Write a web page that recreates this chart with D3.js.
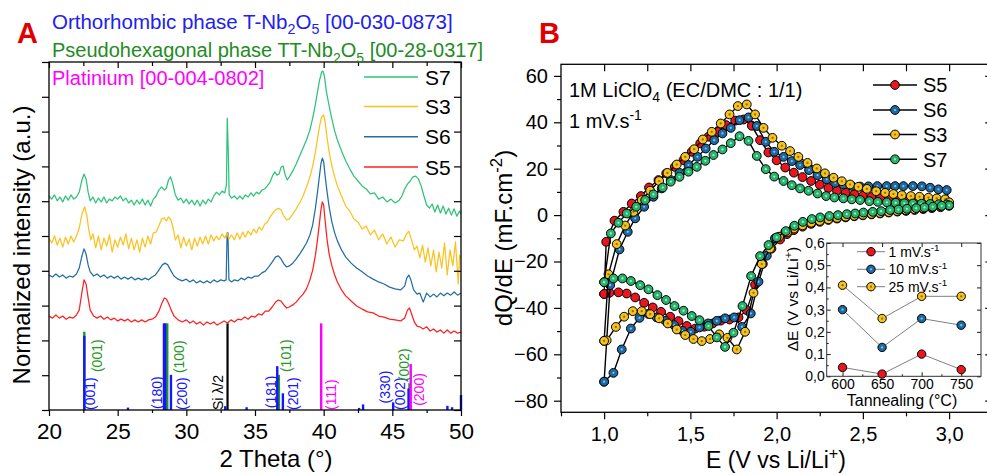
<!DOCTYPE html>
<html><head><meta charset="utf-8">
<script src="https://cdn.jsdelivr.net/npm/d3@7"></script>
<style>body{margin:0;background:#fff}svg{display:block;font-family:"Liberation Sans",Arial,sans-serif}</style>
</head><body><svg id="c" width="987" height="475"></svg>
<script>
// ---------- Panel A data (XRD, normalized + offset, a.u.) ----------
const xrdTicks = [20,25,30,35,40,45,50];
const xrdS5 = [[20,2.70],[20.25,2.64],[20.5,2.73],[20.75,2.64],[21,2.70],[21.25,2.61],[21.5,2.67],[21.75,2.64],[22,2.73],[22.2,2.87],[22.4,3.39],[22.55,3.74],[22.7,3.62],[22.85,3.22],[23,2.87],[23.25,2.70],[23.5,2.64],[23.75,2.70],[24,2.61],[24.25,2.67],[24.5,2.59],[24.75,2.64],[25,2.56],[25.25,2.61],[25.5,2.56],[25.75,2.61],[26,2.53],[26.25,2.59],[26.5,2.53],[26.75,2.59],[27,2.53],[27.25,2.59],[27.5,2.61],[27.75,2.67],[28,2.84],[28.2,3.05],[28.4,3.22],[28.55,3.19],[28.7,3.07],[28.9,2.87],[29.1,2.70],[29.4,2.59],[29.7,2.53],[30,2.59],[30.25,2.50],[30.5,2.56],[30.75,2.47],[31,2.53],[31.25,2.44],[31.5,2.53],[31.75,2.47],[32,2.53],[32.25,2.44],[32.5,2.50],[32.75,2.56],[33,2.50],[33.25,2.59],[33.5,2.53],[33.75,2.61],[34,2.59],[34.25,2.67],[34.5,2.61],[34.75,2.70],[35,2.67],[35.25,2.76],[35.5,2.73],[35.75,2.84],[36,2.84],[36.25,2.96],[36.5,3.10],[36.7,3.16],[36.9,3.13],[37.1,3.02],[37.3,2.93],[37.5,2.96],[37.75,3.02],[38,3.10],[38.25,3.22],[38.5,3.33],[38.75,3.48],[39,3.74],[39.2,4.02],[39.4,4.45],[39.55,4.89],[39.7,5.40],[39.8,5.75],[39.9,5.98],[40,5.89],[40.1,5.46],[40.25,4.89],[40.4,4.48],[40.6,4.14],[40.8,3.88],[41,3.68],[41.3,3.45],[41.6,3.28],[42,3.13],[42.4,2.99],[42.8,2.90],[43.2,2.82],[43.6,2.79],[44,2.70],[44.4,2.67],[44.8,2.61],[45.2,2.59],[45.6,2.56],[45.9,2.64],[46.1,2.87],[46.25,2.93],[46.4,2.76],[46.6,2.53],[46.8,2.41],[47,2.39],[47.25,2.33],[47.5,2.39],[47.75,2.27],[48,2.33],[48.25,2.24],[48.5,2.30],[48.75,2.21],[49,2.30],[49.25,2.21],[49.5,2.27],[49.75,2.21],[50,2.24]];
const xrdS6 = [[20,3.88],[20.25,3.82],[20.5,3.91],[20.75,3.82],[21,3.88],[21.25,3.79],[21.5,3.85],[21.75,3.82],[22,3.91],[22.2,4.08],[22.4,4.43],[22.55,4.63],[22.7,4.48],[22.85,4.17],[23,3.97],[23.25,3.85],[23.5,3.91],[23.75,3.82],[24,3.88],[24.25,3.79],[24.5,3.85],[24.75,3.79],[25,3.85],[25.25,3.76],[25.5,3.82],[25.75,3.76],[26,3.82],[26.25,3.74],[26.5,3.79],[26.75,3.74],[27,3.79],[27.25,3.74],[27.5,3.82],[27.75,3.88],[28,4.02],[28.25,4.17],[28.45,4.22],[28.65,4.17],[28.85,4.02],[29.1,3.85],[29.4,3.76],[29.7,3.71],[30,3.76],[30.25,3.68],[30.5,3.74],[30.75,3.65],[31,3.71],[31.25,3.65],[31.5,3.71],[31.75,3.65],[32,3.74],[32.25,3.68],[32.5,3.74],[32.75,3.71],[32.9,3.74],[32.97,5.09],[33.03,5.09],[33.1,3.74],[33.3,3.68],[33.5,3.74],[33.75,3.71],[34,3.79],[34.25,3.74],[34.5,3.82],[34.75,3.79],[35,3.85],[35.25,3.85],[35.5,3.94],[35.75,3.99],[36,4.11],[36.25,4.25],[36.5,4.40],[36.7,4.43],[36.9,4.34],[37.1,4.20],[37.3,4.11],[37.5,4.14],[37.75,4.22],[38,4.34],[38.25,4.48],[38.5,4.63],[38.75,4.80],[39,5.03],[39.2,5.32],[39.4,5.80],[39.55,6.26],[39.7,6.75],[39.8,7.07],[39.9,7.24],[40,7.13],[40.1,6.75],[40.25,6.26],[40.4,5.83],[40.6,5.40],[40.8,5.09],[41,4.86],[41.3,4.60],[41.6,4.40],[42,4.22],[42.4,4.08],[42.8,3.97],[43.2,3.85],[43.6,3.76],[44,3.68],[44.4,3.62],[44.8,3.53],[45.2,3.48],[45.6,3.45],[45.9,3.56],[46.05,3.79],[46.2,3.88],[46.35,3.74],[46.55,3.45],[46.8,3.33],[47,3.36],[47.25,3.10],[47.5,3.36],[47.75,3.25],[48,3.33],[48.25,3.25],[48.5,3.36],[48.75,3.28],[49,3.36],[49.25,3.30],[49.5,3.39],[49.75,3.30],[50,3.36]];
const xrdS3 = [[20,4.94],[20.2,4.80],[20.4,5.00],[20.6,4.74],[20.8,4.94],[21,4.68],[21.2,4.97],[21.4,4.77],[21.6,5.00],[21.8,4.83],[22,5.00],[22.2,5.23],[22.4,5.63],[22.6,5.84],[22.75,5.60],[22.9,5.17],[23.05,4.89],[23.2,5.06],[23.4,4.66],[23.6,5.00],[23.8,4.60],[24,4.94],[24.2,4.71],[24.4,5.03],[24.6,4.54],[24.8,4.89],[25,4.68],[25.2,4.97],[25.4,4.74],[25.6,5.06],[25.8,4.63],[26,4.94],[26.2,4.60],[26.4,4.89],[26.6,4.54],[26.8,4.94],[27,4.68],[27.2,5.00],[27.4,4.77],[27.6,5.09],[27.8,5.11],[28,5.29],[28.2,5.49],[28.4,5.52],[28.55,5.43],[28.7,5.55],[28.85,5.49],[29,5.29],[29.2,4.89],[29.4,5.03],[29.6,4.66],[29.8,4.97],[30,4.71],[30.2,4.91],[30.4,4.60],[30.6,4.94],[30.8,4.71],[31,4.97],[31.2,4.77],[31.4,5.00],[31.6,4.77],[31.8,5.03],[32,4.86],[32.2,5.00],[32.4,4.89],[32.6,5.06],[32.8,4.94],[32.97,5.09],[33.1,4.91],[33.3,5.03],[33.5,4.89],[33.7,5.09],[33.9,4.91],[34.1,5.11],[34.3,4.97],[34.5,5.14],[34.7,5.03],[34.9,5.20],[35.1,5.09],[35.3,5.26],[35.5,5.17],[35.7,5.34],[35.9,5.40],[36.1,5.55],[36.3,5.66],[36.5,5.75],[36.7,5.80],[36.9,5.75],[37.1,5.57],[37.3,5.46],[37.5,5.49],[37.75,5.63],[38,5.78],[38.25,5.95],[38.5,6.15],[38.75,6.41],[39,6.70],[39.2,7.01],[39.4,7.41],[39.55,7.79],[39.7,8.16],[39.85,8.42],[40,8.48],[40.1,8.28],[40.25,7.82],[40.4,7.41],[40.6,7.01],[40.8,6.70],[41,6.44],[41.3,6.15],[41.6,5.86],[41.9,5.72],[42.2,5.49],[42.5,5.40],[42.8,5.20],[43.1,5.29],[43.4,5.03],[43.7,5.17],[44,4.89],[44.3,5.06],[44.6,4.77],[44.9,4.97],[45.2,4.68],[45.5,4.89],[45.8,4.86],[46,5.03],[46.2,5.14],[46.4,4.89],[46.6,4.60],[46.8,4.71],[47,4.37],[47.2,4.74],[47.4,4.25],[47.6,4.66],[47.8,4.14],[48,4.60],[48.2,3.97],[48.4,4.54],[48.6,4.08],[48.8,4.80],[49,3.88],[49.2,4.60],[49.4,4.14],[49.6,4.83],[49.8,3.62],[49.9,4.45],[50,4.37]];
const xrdS7 = [[20,6.15],[20.2,6.06],[20.4,6.18],[20.6,6.01],[20.8,6.12],[21,5.98],[21.2,6.15],[21.4,6.03],[21.6,6.18],[21.8,6.06],[22,6.12],[22.2,6.26],[22.4,6.61],[22.55,6.78],[22.7,6.64],[22.85,6.26],[23,6.01],[23.2,6.12],[23.4,5.95],[23.6,6.09],[23.8,5.98],[24,6.12],[24.2,5.95],[24.4,6.06],[24.6,6.01],[24.8,6.12],[25,6.06],[25.2,6.15],[25.4,6.01],[25.6,6.09],[25.8,5.95],[26,6.03],[26.2,5.89],[26.4,6.03],[26.6,5.92],[26.8,6.06],[27,5.89],[27.2,6.03],[27.4,5.86],[27.6,6.06],[27.8,6.15],[28,6.32],[28.2,6.41],[28.4,6.32],[28.55,6.38],[28.7,6.61],[28.85,6.70],[29,6.52],[29.2,6.18],[29.4,6.03],[29.6,6.09],[29.8,5.95],[30,6.06],[30.2,5.92],[30.4,6.03],[30.6,5.89],[30.8,6.03],[31,5.86],[31.2,6.03],[31.4,5.92],[31.6,6.06],[31.8,5.98],[32,6.15],[32.2,6.26],[32.4,6.18],[32.6,6.29],[32.8,6.24],[32.92,6.47],[32.98,8.39],[33.05,7.47],[33.12,6.18],[33.3,6.09],[33.5,6.15],[33.7,6.06],[33.9,6.15],[34.1,6.06],[34.3,6.18],[34.5,6.12],[34.7,6.24],[34.9,6.15],[35.1,6.26],[35.3,6.21],[35.5,6.32],[35.7,6.35],[35.9,6.44],[36.1,6.55],[36.3,6.75],[36.45,6.84],[36.6,6.75],[36.75,6.78],[36.9,6.98],[37.05,7.01],[37.2,6.75],[37.35,6.61],[37.5,6.70],[37.75,6.87],[38,7.07],[38.25,7.30],[38.5,7.53],[38.75,7.76],[39,8.05],[39.2,8.39],[39.4,8.79],[39.55,9.14],[39.7,9.48],[39.85,9.71],[39.95,9.74],[40.05,9.60],[40.2,9.14],[40.4,8.74],[40.6,8.36],[40.8,8.02],[41,7.76],[41.3,7.44],[41.6,7.16],[41.9,6.93],[42.2,6.72],[42.5,6.58],[42.8,6.44],[43.1,6.35],[43.4,6.21],[43.7,6.24],[44,6.06],[44.3,6.12],[44.6,5.98],[44.9,6.06],[45.2,5.95],[45.5,6.03],[45.7,6.15],[45.9,6.35],[46.1,6.49],[46.3,6.58],[46.5,6.70],[46.7,6.72],[46.9,6.64],[47.1,6.44],[47.3,6.15],[47.5,5.89],[47.7,5.80],[47.9,5.92],[48.1,5.69],[48.3,5.89],[48.5,5.66],[48.7,5.86],[48.9,5.63],[49.1,5.80],[49.3,5.60],[49.5,5.78],[49.7,5.57],[49.9,5.72],[50,5.63]];
// reference patterns: [2theta, relative height]
const refOrtho = [[22.57,2.13],[25.75,0.07],[28.37,2.49],[28.46,2.49],[28.88,1.01],[32.83,0.11],[34.39,0.08],[36.62,1.26],[37.03,0.48],[42.58,0.06],[42.87,0.16],[45.06,0.22],[46.18,0.62],[49.01,0.12],[49.35,0.08],[50.0,0.43]];
const refPseudo = [[22.57,2.25],[28.61,2.49],[36.74,1.01],[46.25,0.77]];
const refPt = [[39.82,2.49],[46.34,1.32]];
const refSi = [[33.0,2.49]];
// hkl labels: [text, 2theta, start height, colour key]
const hklLabels = [["(001)",23.02,0,"o"],["(001)",23.46,1.09,"p"],["(180)",27.83,0.03,"o"],["(200)",29.65,0,"o"],["(100)",29.43,1.06,"p"],["Si λ/2",32.34,0,"s"],["(181)",36.20,0.05,"o"],["(201)",37.80,0,"o"],["(101)",37.29,1.09,"p"],["(111)",40.57,0,"m"],["(330)",44.47,0.19,"o"],["(002)",45.56,0,"o"],["(002)",45.85,0.83,"p"],["(200)",46.91,0.12,"m"]];

// ---------- Panel B data (dQ/dE vs E) ----------
const cvTicksX = [1.0,1.5,2.0,2.5,3.0];
const cvTicksY = [-80,-60,-40,-20,0,20,40,60];
const cvS5Anodic = [[1.0,-34.0],[1.012,-11.5],[1.06,-2.4],[1.112,1.4],[1.16,5.0],[1.213,8.2],[1.26,11.9],[1.315,15.1],[1.36,18.0],[1.41,20.8],[1.46,23.7],[1.508,27.3],[1.557,30.9],[1.605,33.8],[1.657,35.9],[1.707,38.8],[1.76,40.7],[1.808,41.2],[1.856,38.5],[1.904,32.3],[1.952,27.0],[2.0,23.6],[2.05,20.5],[2.1,18.3],[2.15,16.4],[2.2,14.7],[2.25,13.1],[2.3,11.7],[2.35,10.5],[2.4,9.6],[2.45,8.9],[2.5,8.3],[2.55,7.8],[2.6,7.2],[2.65,6.7],[2.7,6.3],[2.75,5.9],[2.8,5.6],[2.85,5.3],[2.9,5.0],[2.95,4.7],[2.99,4.6]];
const cvS5Cathodic = [[3.0,4.0],[2.95,3.4],[2.9,3.0],[2.85,2.6],[2.8,2.2],[2.75,1.8],[2.7,1.5],[2.65,1.1],[2.6,0.7],[2.55,0.3],[2.5,-0.1],[2.45,-0.5],[2.4,-1.0],[2.35,-1.5],[2.3,-2.1],[2.25,-2.9],[2.2,-3.8],[2.15,-5.0],[2.1,-6.5],[2.06,-8.2],[2.02,-10.5],[1.97,-14.5],[1.92,-21.0],[1.875,-30.0],[1.827,-41.0],[1.779,-44.1],[1.727,-45.0],[1.676,-45.5],[1.63,-46.7],[1.58,-48.1],[1.528,-48.9],[1.479,-47.8],[1.431,-45.7],[1.383,-43.8],[1.33,-41.7],[1.282,-39.8],[1.232,-37.8],[1.18,-35.5],[1.131,-33.8],[1.083,-33.3],[1.031,-33.5],[1.0,-34.0]];
const cvS6Anodic = [[1.0,-71.8],[1.035,-30.2],[1.089,-14.8],[1.137,-7.2],[1.18,-1.4],[1.232,3.6],[1.286,7.9],[1.334,11.5],[1.386,15.1],[1.437,18.2],[1.489,21.6],[1.541,25.1],[1.589,28.7],[1.638,32.3],[1.686,35.2],[1.734,37.6],[1.785,40.9],[1.837,42.1],[1.885,38.4],[1.937,31.6],[1.986,27.3],[2.04,25.1],[2.088,23.3],[2.136,21.6],[2.188,19.4],[2.237,17.2],[2.29,15.4],[2.339,13.9],[2.387,13.2],[2.436,12.6],[2.484,12.3],[2.532,12.4],[2.584,12.5],[2.638,12.5],[2.687,12.5],[2.735,12.5],[2.79,12.5],[2.842,12.4],[2.89,11.8],[2.938,11.1],[2.986,10.8]];
const cvS6Cathodic = [[3.0,5.0],[2.95,4.2],[2.9,3.6],[2.85,3.1],[2.8,2.7],[2.75,2.3],[2.7,1.9],[2.65,1.5],[2.6,1.1],[2.55,0.7],[2.5,0.3],[2.45,-0.1],[2.4,-0.5],[2.35,-1.0],[2.3,-1.5],[2.25,-2.2],[2.2,-3.1],[2.15,-4.1],[2.1,-5.5],[2.05,-7.3],[1.99,-10.0],[1.943,-17.5],[1.895,-28.7],[1.85,-42.4],[1.8,-48.2],[1.754,-44.1],[1.701,-44.5],[1.653,-45.6],[1.603,-46.7],[1.553,-48.4],[1.502,-50.3],[1.454,-49.9],[1.406,-47.4],[1.356,-45.6],[1.305,-44.1],[1.257,-42.6],[1.205,-44.3],[1.155,-48.9],[1.102,-57.9],[1.054,-68.0],[1.0,-71.8]];
const cvS3Anodic = [[1.0,-54.2],[1.025,-25.5],[1.073,-12.5],[1.122,-4.5],[1.17,1.4],[1.218,6.5],[1.267,10.5],[1.319,14.7],[1.367,18.2],[1.421,21.8],[1.47,25.1],[1.522,28.4],[1.572,32.6],[1.624,35.9],[1.676,39.5],[1.727,43.4],[1.775,47.0],[1.827,47.7],[1.875,43.4],[1.924,37.6],[1.976,33.3],[2.03,29.9],[2.078,27.6],[2.126,25.1],[2.179,22.5],[2.233,20.1],[2.28,18.0],[2.33,16.1],[2.378,14.6],[2.426,13.2],[2.474,12.2],[2.523,11.3],[2.577,10.3],[2.629,9.6],[2.677,9.1],[2.726,8.6],[2.778,8.2],[2.828,7.9],[2.88,7.5],[2.928,7.2],[2.977,6.8]];
const cvS3Cathodic = [[3.0,5.5],[2.95,4.0],[2.9,3.4],[2.85,3.0],[2.8,2.5],[2.75,2.1],[2.7,1.7],[2.65,1.3],[2.6,0.9],[2.55,0.5],[2.5,0.1],[2.45,-0.3],[2.4,-0.7],[2.35,-1.2],[2.3,-1.8],[2.25,-2.5],[2.2,-3.3],[2.15,-4.4],[2.1,-5.8],[2.062,-7.3],[2.014,-9.3],[1.962,-14.4],[1.914,-21.1],[1.866,-33.5],[1.817,-50.3],[1.769,-57.9],[1.715,-52.9],[1.667,-51.4],[1.614,-53.4],[1.566,-54.3],[1.518,-53.4],[1.47,-51.7],[1.421,-49.3],[1.369,-46.7],[1.319,-44.5],[1.267,-42.7],[1.218,-41.4],[1.166,-41.4],[1.116,-43.8],[1.068,-48.2],[1.015,-54.0],[1.0,-54.2]];
const cvS7Anodic = [[1.0,-28.9],[1.039,-7.9],[1.083,-3.3],[1.131,0.7],[1.186,3.6],[1.238,6.5],[1.286,8.9],[1.34,11.9],[1.386,14.4],[1.437,16.5],[1.489,18.7],[1.537,20.8],[1.587,23.4],[1.634,25.9],[1.686,28.3],[1.734,31.0],[1.785,34.0],[1.837,32.0],[1.885,25.5],[1.937,19.8],[1.986,16.6],[2.04,14.7],[2.088,12.9],[2.136,11.5],[2.185,10.5],[2.237,9.3],[2.287,8.2],[2.335,7.6],[2.387,7.2],[2.436,6.8],[2.484,6.5],[2.538,6.0],[2.586,5.7],[2.639,5.5],[2.69,5.3],[2.74,5.1],[2.79,5.0],[2.84,4.9],[2.89,4.8],[2.94,4.7],[2.986,4.6]];
const cvS7Cathodic = [[3.0,4.2],[2.957,4.0],[2.905,3.6],[2.857,3.3],[2.809,3.0],[2.755,2.7],[2.706,2.4],[2.658,2.2],[2.606,1.7],[2.557,1.4],[2.503,1.1],[2.455,0.7],[2.407,0.4],[2.355,0.0],[2.306,-0.4],[2.252,-1.0],[2.204,-1.7],[2.152,-2.9],[2.103,-4.6],[2.053,-6.9],[2.0,-9.6],[1.953,-12.9],[1.904,-17.7],[1.852,-26.3],[1.802,-39.2],[1.75,-50.7],[1.701,-56.8],[1.653,-52.7],[1.605,-47.8],[1.553,-45.3],[1.508,-43.5],[1.46,-41.2],[1.408,-39.2],[1.359,-36.6],[1.309,-34.5],[1.257,-32.0],[1.209,-30.2],[1.155,-28.4],[1.106,-27.3],[1.054,-27.3],[1.0,-28.9]];

// ---------- Inset data ----------
const annealTemps = [600,650,700,750];
const dE1mV = [0.04,0.01,0.10,0.03];
const dE10mV = [0.30,0.13,0.26,0.23];
const dE25mV = [0.41,0.26,0.36,0.36];

// ---------- helpers ----------
const FONT = '"Liberation Sans",Arial,sans-serif';
const svg = d3.select("#c");
svg.append("rect").attr("width",987).attr("height",475).attr("fill","#fff");

function styleAxis(g, fs){
  g.attr("font-family",FONT).attr("font-size",fs||12);
  g.select(".domain").remove();
  g.selectAll(".tick line").attr("stroke","#000").attr("stroke-width",1.2);
  g.selectAll(".tick text").attr("fill","#000");
  return g;
}
function rich(textSel, parts, fs){
  let cur = 0;
  parts.forEach(([t,k])=>{
    const target = k==="sup" ? -0.4*fs : (k==="sub" ? 0.28*fs : 0);
    const sp = textSel.append("tspan").text(t).attr("dy", (target-cur).toFixed(2));
    if(k!=="n") sp.attr("font-size", (fs*0.7).toFixed(1));
    cur = target;
  });
}
function txt(parent, x, y, fs, color, parts, anchor, rot){
  const t = parent.append("text").attr("font-family",FONT).attr("font-size",fs).attr("fill",color)
    .attr("text-anchor",anchor||"start");
  if(rot){ t.attr("transform",`translate(${x},${y}) rotate(${rot})`); }
  else { t.attr("x",x).attr("y",y); }
  rich(t, parts, fs);
  return t;
}

// =================== PANEL A ===================
const xA = d3.scaleLinear().domain([20,50]).range([49,461]);
const yA = d3.scaleLinear().domain([0,10]).range([410,62]);
const gA = svg.append("g");

const stickCol = {o:"#1515ff", p:"#1f9a1f", m:"#ff00ff", s:"#000"};
function sticks(data, col, w){
  gA.append("g").selectAll("line").data(data).join("line")
    .attr("x1",d=>xA(d[0])).attr("x2",d=>xA(d[0]))
    .attr("y1",yA(0)).attr("y2",d=>yA(d[1]))
    .attr("stroke",col).attr("stroke-width",w);
}
sticks(refPseudo, stickCol.p, 2.4);
sticks(refOrtho, stickCol.o, 2.4);
sticks(refSi, stickCol.s, 2.2);
sticks(refPt, stickCol.m, 2.4);

hklLabels.forEach(([t,th,h,k])=>{
  gA.append("text").attr("font-family",FONT).attr("font-size",14).attr("fill",stickCol[k])
    .attr("transform",`translate(${xA(th)+5},${yA(h)}) rotate(-90)`).text(t);
});

const lineA = d3.line().x(d=>xA(d[0])).y(d=>yA(d[1]));
const xrdSeries = [
  {name:"S5", data:xrdS5, col:"#ff2020"},
  {name:"S6", data:xrdS6, col:"#236fa5"},
  {name:"S3", data:xrdS3, col:"#fcc21f"},
  {name:"S7", data:xrdS7, col:"#2fc27a"}
];
xrdSeries.forEach(s=>{
  gA.append("path").datum(s.data).attr("d",lineA).attr("fill","none")
    .attr("stroke",s.col).attr("stroke-width",1.25).attr("stroke-linejoin","round");
});

styleAxis(gA.append("g").attr("transform","translate(0,410)")
  .call(d3.axisBottom(xA).tickValues(xrdTicks).tickSize(6).tickPadding(7).tickFormat(d3.format("d"))), 22.5);
styleAxis(gA.append("g").attr("transform","translate(0,410)")
  .call(d3.axisBottom(xA).tickValues(d3.range(22.5,50,5)).tickSize(3).tickFormat("")));
styleAxis(gA.append("g").attr("transform","translate(0,62)")
  .call(d3.axisTop(xA).tickValues(xrdTicks).tickSize(-6).tickFormat("")));
styleAxis(gA.append("g").attr("transform","translate(0,62)")
  .call(d3.axisTop(xA).tickValues(d3.range(22.5,50,5)).tickSize(-4).tickFormat("")));
styleAxis(gA.append("g").attr("transform","translate(49,0)")
  .call(d3.axisLeft(yA).tickValues(d3.range(0,11)).tickSize(7).tickFormat("")));
styleAxis(gA.append("g").attr("transform","translate(461,0)")
  .call(d3.axisRight(yA).tickValues(d3.range(0,11)).tickSize(-7).tickFormat("")));
gA.append("rect").attr("x",49).attr("y",62).attr("width",412).attr("height",348)
  .attr("fill","none").attr("stroke","#000").attr("stroke-width",1.3);

const legA = [["S7","#2fc27a",77],["S3","#fcc21f",106.5],["S6","#236fa5",136.8],["S5","#ff2020",167]];
legA.forEach(([n,c,y])=>{
  gA.append("line").attr("x1",364).attr("x2",418).attr("y1",y).attr("y2",y).attr("stroke",c).attr("stroke-width",1.5);
  gA.append("text").attr("x",425).attr("y",y+7.6).attr("font-family",FONT).attr("font-size",21).text(n);
});

txt(svg, 52, 28.5, 20.5, "#2020f0", [["Orthorhombic phase T-Nb","n"],["2","sub"],["O","n"],["5","sub"],[" [00-030-0873]","n"]]);
txt(svg, 52, 57, 20, "#1f8c1f", [["Pseudohexagonal phase TT-Nb","n"],["2","sub"],["O","n"],["5","sub"],[" [00-28-0317]","n"]]);
txt(svg, 52, 85, 20, "#ff00ff", [["Platinium [00-004-0802]","n"]]);
svg.append("text").attr("x",17).attr("y",43).attr("font-family",FONT).attr("font-size",29)
  .attr("font-weight","bold").attr("fill","#e00000").text("A");
txt(svg, 29.5, 245, 24, "#000", [["Normalized intensity (a.u.)","n"]], "middle", -90);
txt(svg, 276, 467, 24, "#000", [["2 Theta (°)","n"]], "middle");

// =================== PANEL B ===================
const xB = d3.scaleLinear().domain([0.75,3.25]).range([561,992.25]);
const yB = d3.scaleLinear().domain([-85,65]).range([412.3,64.3]);
const gB = svg.append("g");
const comma1 = v => d3.format(".1f")(v).replace(".",",");

styleAxis(gB.append("g").attr("transform","translate(0,412.3)")
  .call(d3.axisBottom(xB).tickValues(cvTicksX).tickSize(7).tickPadding(8).tickFormat(comma1)), 20);
styleAxis(gB.append("g").attr("transform","translate(0,412.3)")
  .call(d3.axisBottom(xB).tickValues([0.75,1.25,1.75,2.25,2.75,3.25]).tickSize(4).tickFormat("")));
styleAxis(gB.append("g").attr("transform","translate(0,64.3)")
  .call(d3.axisTop(xB).tickValues(d3.range(1.0,3.01,0.25)).tickSize(-7).tickFormat("")));
styleAxis(gB.append("g").attr("transform","translate(561,0)")
  .call(d3.axisLeft(yB).tickValues(cvTicksY).tickSize(7).tickPadding(6).tickFormat(d3.format("d"))), 20);
styleAxis(gB.append("g").attr("transform","translate(561,0)")
  .call(d3.axisLeft(yB).tickValues(d3.range(-70,60,20)).tickSize(4).tickFormat("")));
styleAxis(gB.append("g").attr("transform","translate(992.25,0)")
  .call(d3.axisRight(yB).tickValues(cvTicksY).tickSize(-7).tickFormat("")));
gB.append("rect").attr("x",561).attr("y",64.3).attr("width",431.25).attr("height",348)
  .attr("fill","none").attr("stroke","#000").attr("stroke-width",1.3);

const lineB = d3.line().x(d=>xB(d[0])).y(d=>yB(d[1]));
const cvSeries = [
  {name:"S5", an:cvS5Anodic, ca:cvS5Cathodic, col:"#e8161e", dot:null},
  {name:"S6", an:cvS6Anodic, ca:cvS6Cathodic, col:"#1c6aa3", dot:"#8fc3ea"},
  {name:"S3", an:cvS3Anodic, ca:cvS3Cathodic, col:"#f4c11d", dot:"#8a6a00"},
  {name:"S7", an:cvS7Anodic, ca:cvS7Cathodic, col:"#25b56c", dot:"#b9f1d3"}
];
function marker(g, x, y, col, dot, r){
  g.append("circle").attr("cx",x).attr("cy",y).attr("r",r||4.4).attr("fill",col).attr("stroke","#000").attr("stroke-width",1);
  if(dot) g.append("circle").attr("cx",x).attr("cy",y).attr("r",1.1).attr("fill",dot);
}
cvSeries.forEach(s=>{
  const pts = s.an.concat(s.ca);
  const g = gB.append("g");
  g.append("path").datum(pts).attr("d",lineB).attr("fill","none").attr("stroke","#000").attr("stroke-width",1.4);
  pts.forEach(p=>marker(g, xB(p[0]), yB(p[1]), s.col, s.dot));
});

[85,110,134.5,159.3].forEach((y,i)=>{
  const s = cvSeries[i];
  gB.append("line").attr("x1",873).attr("x2",917).attr("y1",y).attr("y2",y).attr("stroke","#000").attr("stroke-width",1.4);
  marker(gB, 895, y, s.col, s.dot);
  gB.append("text").attr("x",923).attr("y",y+7.2).attr("font-family",FONT).attr("font-size",20).text(s.name);
});

txt(svg, 569, 96.5, 20, "#000", [["1M LiClO","n"],["4","sub"],[" (EC/DMC : 1/1)","n"]]);
txt(svg, 569, 128, 20, "#000", [["1 mV.s","n"],["-1","sup"]]);
svg.append("text").attr("x",539).attr("y",43).attr("font-family",FONT).attr("font-size",29)
  .attr("font-weight","bold").attr("fill","#e00000").text("B");
txt(svg, 511.5, 238, 24, "#000", [["dQ/dE (mF.cm","n"],["-2","sup"],[")","n"]], "middle", -90);
txt(svg, 776, 468, 23, "#000", [["E (V vs Li/Li","n"],["+","sup"],[")","n"]], "middle");

// =================== INSET ===================
const xI = d3.scaleLinear().domain([580,775]).range([826.7,981]);
const yI = d3.scaleLinear().domain([0,0.6]).range([376.3,243]);
const gI = svg.append("g");
gI.append("rect").attr("x",826.7).attr("y",243).attr("width",154.3).attr("height",133.3).attr("fill","#fff");
styleAxis(gI.append("g").attr("transform","translate(0,376.3)")
  .call(d3.axisBottom(xI).tickValues(annealTemps).tickSize(-4).tickPadding(3).tickFormat(d3.format("d"))), 14);
styleAxis(gI.append("g").attr("transform","translate(0,376.3)")
  .call(d3.axisBottom(xI).tickValues([625,675,725]).tickSize(-2).tickFormat("")));
styleAxis(gI.append("g").attr("transform","translate(0,243)")
  .call(d3.axisTop(xI).tickValues(annealTemps).tickSize(-4).tickFormat("")));
styleAxis(gI.append("g").attr("transform","translate(826.7,0)")
  .call(d3.axisLeft(yI).tickValues(d3.range(0,0.61,0.1)).tickSize(-4).tickPadding(2).tickFormat(comma1)), 14);
styleAxis(gI.append("g").attr("transform","translate(826.7,0)")
  .call(d3.axisLeft(yI).tickValues(d3.range(0.05,0.6,0.1)).tickSize(-2).tickFormat("")));
styleAxis(gI.append("g").attr("transform","translate(981,0)")
  .call(d3.axisRight(yI).tickValues(d3.range(0,0.61,0.1)).tickSize(-4).tickFormat("")));
gI.selectAll(".tick line").attr("stroke-width",0.9);
gI.append("rect").attr("x",826.7).attr("y",243).attr("width",154.3).attr("height",133.3)
  .attr("fill","none").attr("stroke","#333").attr("stroke-width",1);

const insetSeries = [
  {label:"1 mV.s", vals:dE1mV, col:"#e8161e", dot:null},
  {label:"10 mV.s", vals:dE10mV, col:"#1c6aa3", dot:"#8fc3ea"},
  {label:"25 mV.s", vals:dE25mV, col:"#f4c11d", dot:"#8a6a00"}
];
const lineI = d3.line().x(d=>xI(d[0])).y(d=>yI(d[1]));
insetSeries.forEach(s=>{
  const pts = annealTemps.map((t,i)=>[t,s.vals[i]]);
  gI.append("path").datum(pts).attr("d",lineI).attr("fill","none").attr("stroke","#808080").attr("stroke-width",1);
  pts.forEach(p=>marker(gI, xI(p[0]), yI(p[1]), s.col, s.dot, 4.2));
});
[251.7,269.3,286.7].forEach((y,i)=>{
  const s = insetSeries[i];
  gI.append("line").attr("x1",857).attr("x2",885).attr("y1",y).attr("y2",y).attr("stroke","#808080").attr("stroke-width",1);
  marker(gI, 871, y, s.col, s.dot, 4.2);
  txt(gI, 888.5, y+5, 14, "#000", [[s.label,"n"],["-1","sup"]]);
});
txt(svg, 902, 405.5, 16, "#000", [["Tannealing (°C)","n"]], "middle");
txt(svg, 798, 299, 15.5, "#000", [["ΔE (V vs Li/Li","n"],["+","sup"],[")","n"]], "middle", -90);
</script></body></html>
